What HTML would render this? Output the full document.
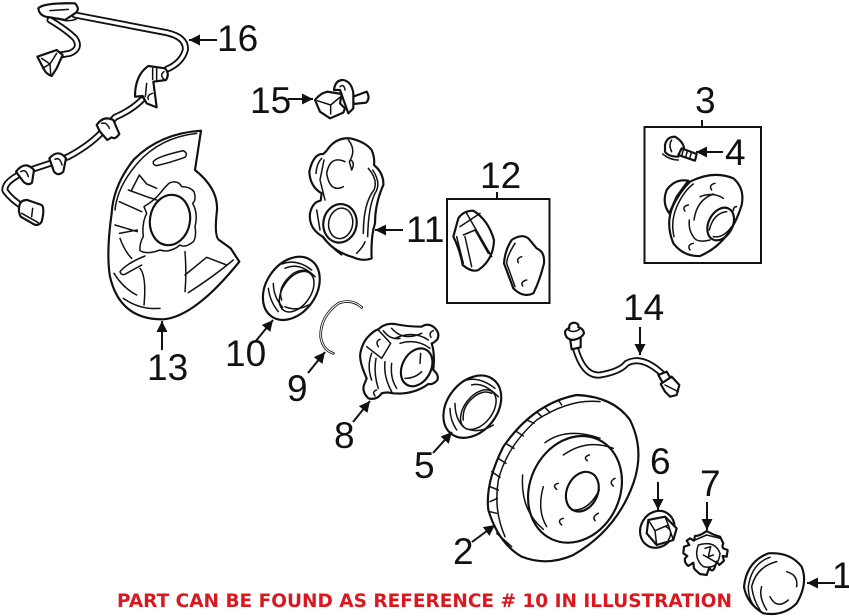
<!DOCTYPE html>
<html><head><meta charset="utf-8"><title>Diagram</title>
<style>
html,body{margin:0;padding:0;background:#fff}
svg{display:block}
.n{font-family:"Liberation Sans",sans-serif;font-size:37px;fill:#111}
.r{font-family:"DejaVu Sans",sans-serif;font-weight:bold;font-size:19px;fill:#d9181f}
.d path,.d ellipse,.d rect,.d circle{fill:none;stroke:#111;stroke-width:6.5;stroke-linecap:round;stroke-linejoin:round}
.d .f{fill:#fff}
.d .t{stroke-width:4.5}
.d .wb{stroke-width:21}
.d .ww{stroke:#fff;stroke-width:10}
.a line{stroke:#111;stroke-width:2}
</style></head>
<body>
<svg width="849" height="616" viewBox="0 0 849 616" xmlns="http://www.w3.org/2000/svg">
<defs><marker id="h" markerUnits="userSpaceOnUse" markerWidth="12" markerHeight="12" refX="11" refY="6" orient="auto"><path d="M0,0.5L11,6L0,11.5Z" fill="#111"/></marker></defs>

<!-- Group A: sensor wire + shield -->
<g class="d" transform="scale(.33333)">
<path class="wb" d="M225,45 L500,98 Q560,112 556,150 Q546,188 500,208"/>
<path class="ww" d="M225,45 L500,98 Q560,112 556,150 Q546,188 500,208"/>
<path class="wb" d="M150,60 Q200,90 225,115 Q245,145 210,160 L180,165"/>
<path class="ww" d="M150,60 Q200,90 225,115 Q245,145 210,160 L180,165"/>
<path class="f" d="M115,25 Q130,8 225,10 Q242,28 225,40 L195,60 L150,52 Q118,50 115,25Z"/>
<path class="t" d="M150,32L205,28M175,55Q200,68 228,58"/>
<path class="f" d="M112,170 L170,150 L188,165 L170,205 L155,228 Q138,222 132,208Z"/>
<path class="t" d="M125,175L150,192L170,160M150,192L152,222M128,205L150,192"/>
<path class="wb" d="M425,300 Q395,330 345,352 L320,380 Q280,430 205,470 L175,482 L75,515 Q10,545 15,572 Q35,600 72,622"/>
<path class="ww" d="M425,300 Q395,330 345,352 L320,380 Q280,430 205,470 L175,482 L75,515 Q10,545 15,572 Q35,600 72,622"/>
<path class="f" d="M405,290 Q405,225 445,198 L495,205 Q510,220 498,240 L460,245 L470,322 L440,310 L428,288Z"/>
<path class="t" d="M458,205L458,238M470,205L470,240M492,215Q478,225 492,238M458,280Q440,285 445,298M440,250L436,290"/>
<path class="f" d="M290,375 Q310,345 340,360 L358,402 Q345,420 335,412 L322,420 L300,395Z"/>
<path class="t" d="M305,370Q320,365 328,385"/>
<path class="f" d="M148,475 Q175,445 198,475 L190,515 Q175,530 162,515Z"/>
<path class="f" d="M48,515 Q75,480 102,510 L96,548 Q85,558 70,545Z"/>
<path class="t" d="M165,478Q180,470 186,495M62,515Q78,505 85,530"/>
<path class="f" d="M58,618 Q60,600 82,600 L125,615 Q135,625 125,665 Q115,680 100,672 L62,650Q54,635 58,618Z"/>
<path class="t" d="M65,640L115,668M98,625L95,650"/>
<!-- shield -->
<path class="f" d="M603,392 Q480,400 402,478 Q340,555 335,640 Q318,760 330,830 Q360,960 490,958 Q585,950 718,785 L692,745 L660,722 Q642,715 650,640 Q660,570 585,510Z"/>
<path class="t" d="M590,400Q480,412 412,490Q352,560 345,630"/>
<path d="M460,485 Q470,470 550,452 Q565,460 555,472 Q510,488 470,497 Q458,495 460,485Z" class="t"/>
<ellipse cx="510" cy="660" rx="60" ry="76" transform="rotate(10 510 660)"/>
<path class="t" d="M420,752 Q418,730 430,710 Q425,670 440,640 L432,620 Q465,600 480,580 Q500,555 510,548 Q535,540 545,560 Q570,560 582,575 Q590,600 578,610 Q595,640 585,680 Q590,710 580,725 Q555,745 540,735 Q510,760 480,750 Q440,765 420,752Z"/>
<path class="t" d="M395,570L418,525L440,552L470,565M385,570L440,590L470,600M358,605L425,635M345,675L412,695M358,700L412,690M360,715Q375,755 395,775M435,768Q380,790 360,815Q365,830 380,820L425,795M420,805Q440,830 432,915M342,820Q370,865 410,885M370,895Q420,930 480,925M555,755Q560,820 555,875M555,825L620,772L680,795M565,878Q640,830 700,780"/>
</g>

<!-- caliper -->
<g class="d" transform="translate(300,130) scale(.33333)">
<path class="f" d="M85,55 Q110,22 150,25 Q195,35 215,60 Q225,85 222,105 Q252,130 250,165 Q225,220 225,280 Q212,320 215,385 Q190,395 160,382 Q100,365 68,320 Q25,295 30,250 Q38,215 62,212 L65,190 Q30,170 28,125 Q40,70 70,72 Q78,65 85,55Z"/>
<path class="t" d="M135,95 Q90,75 80,130 Q90,190 130,170M145,30 Q170,60 148,95 L155,120 Q165,100 155,92M205,115 Q235,150 222,180 Q190,220 190,310M218,120 Q245,160 225,190 Q205,230 203,320M170,370Q190,350 195,335M48,130Q50,100 65,85M50,240L60,300M72,90L60,150L75,210M70,320Q90,350 125,375"/>
<ellipse cx="120" cy="280" rx="50" ry="58" transform="rotate(10 120 280)"/>
<ellipse class="t" cx="122" cy="280" rx="36" ry="46" transform="rotate(10 122 280)"/>
</g>

<!-- hub 8 -->
<g class="d" transform="translate(350,310) scale(.33333)">
<path class="f" d="M50,85 Q70,62 85,58 Q105,38 135,42 Q170,50 215,50 Q232,38 250,50 Q272,68 262,88 Q250,100 245,100 Q255,130 250,180 Q268,195 262,210 Q250,225 235,222 Q190,255 130,250 Q110,245 95,250 Q80,272 55,265 Q35,245 42,225 L50,205 Q25,150 32,125 Q38,100 50,85Z"/>
<path class="t" d="M85,60L122,100L95,145L50,110M90,88Q75,95 85,110M250,62Q235,68 243,82M80,240Q65,245 75,258M100,62Q120,90 150,85M125,55Q160,95 215,70M135,85Q190,60 235,90M150,100Q200,85 240,115M65,130Q50,170 65,210M78,145Q70,190 85,235M105,155Q100,200 125,245M125,160Q120,205 140,235"/>
<ellipse cx="200" cy="172" rx="43" ry="60" transform="rotate(28 200 172)"/>
<path class="t" d="M212,130L210,160M165,205Q195,205 215,185"/>
</g>

<!-- Group B -->
<g class="d" transform="translate(240,80) scale(.33333)">
<!-- 15 -->
<path class="f" d="M340,50 L380,35 Q392,55 378,68 L340,72Z"/>
<path class="f" d="M282,30 Q285,0 310,0 Q335,5 340,40 L340,85 L325,100 L300,30Z"/>
<path class="f" d="M225,60 Q240,40 262,35 L305,42 L300,70 L315,85 L310,98 L270,115 L240,95Z"/>
<path class="t" d="M232,62L272,75L302,50M272,75L272,102M300,20Q312,10 315,30"/>
<!-- pad 12 left -->
<path class="f" d="M655,415 Q670,392 700,392 Q745,420 762,480 Q760,540 715,570 Q695,578 668,555 Q660,510 640,470Z"/>
<path class="t" d="M660,440L720,400M680,400L755,530M650,470L670,550M670,465L705,450L745,520M675,470L695,560"/>
<!-- pad right -->
<path class="f" d="M815,480 Q845,460 865,475 L890,505 Q915,515 912,550 Q900,600 880,640 Q850,655 820,625 L792,550 Q795,510 815,480Z"/>
<path class="t" d="M825,490Q800,530 800,550L825,620M845,530Q828,535 835,548M860,600Q840,605 848,618"/>
<!-- seal 10 -->
<ellipse class="f" cx="154" cy="625" rx="75" ry="103" transform="rotate(35 154 625)"/>
<ellipse class="t" cx="170" cy="635" rx="42" ry="68" transform="rotate(35 170 635)"/>
<path class="t" d="M125,660Q110,620 160,580Q185,565 205,575M125,552Q170,535 215,570M135,565Q180,545 225,590M85,625Q90,665 115,695M100,610Q100,650 128,682M135,680Q170,695 205,675"/>
<!-- ring 9 -->
<path class="wb" style="stroke-width:8" d="M365,682 Q335,655 295,670 Q240,710 242,770 Q248,810 280,820"/>
<path class="ww" style="stroke-width:3" d="M365,682 Q335,655 295,670 Q240,710 242,770 Q248,810 280,820"/>
</g>

<!-- Group C -->
<g class="d" transform="translate(550,80) scale(.33333)">
<!-- bolt 4 -->
<path class="f" d="M345,195 Q350,170 375,170 Q400,185 402,205 L385,230 Q355,230 345,215Z"/>
<path class="f" d="M395,205L440,222L435,242L385,225Z"/>
<path class="t" d="M400,210L395,228M412,213L407,232M424,218L419,236M338,222Q360,240 385,240M365,180Q355,195 365,215"/>
<!-- hub 3 -->
<path class="f" d="M415,302 Q375,295 350,330 Q335,370 358,400L380,350Z"/>
<path class="f" d="M420,305 Q490,270 550,295 Q585,325 575,375 Q540,490 450,528 Q400,530 370,490 Q345,430 370,375 Q390,335 420,305Z"/>
<path class="t" d="M372,470Q360,420 385,370Q405,330 430,312M418,420Q415,450 430,470M430,470Q440,490 480,480M432,420Q440,360 490,342M450,350Q490,335 520,355"/>
<ellipse cx="512" cy="432" rx="36" ry="52" transform="rotate(28 512 432)"/>
<path class="t" d="M478,450Q490,400 530,395M490,470Q520,475 545,440"/>
<path class="t" d="M495,310Q475,315 485,330M415,375Q395,380 405,393M430,490Q410,495 420,510M560,380Q550,380 550,392"/>
<!-- 14 hose -->
<path class="wb" d="M75,800 Q100,890 150,885 Q210,875 230,850 Q275,825 335,880"/>
<path class="ww" d="M75,800 Q100,890 150,885 Q210,875 230,850 Q275,825 335,880"/>
<path class="f" d="M60,775L92,770L92,802L65,808Z"/>
<path class="f" d="M45,755 Q50,745 58,745 Q55,730 72,728 Q88,730 85,742 Q100,745 102,760 Q95,775 70,780 Q45,778 45,755Z"/>
<path class="t" d="M55,750Q70,760 88,748"/>
<path class="f" d="M325,885L350,875L362,895L340,912Z"/>
<path class="f" d="M332,912L365,890L388,915L380,945L360,950L345,935Z"/>
<path class="t" d="M345,915L385,935"/>
</g>

<!-- Group D -->
<g class="d" transform="translate(340,370) scale(.33333)">
<!-- 5 -->
<ellipse class="f" cx="397" cy="110" rx="75" ry="103" transform="rotate(38 397 110)"/>
<ellipse class="t" cx="415" cy="119" rx="42" ry="68" transform="rotate(38 415 119)"/>
<path class="t" d="M370,150Q365,105 410,75Q435,60 455,70M380,30Q420,20 465,55M395,45Q430,35 475,80M330,115Q330,150 350,180M345,100Q345,145 370,170M385,178Q420,190 460,165"/>
<!-- rotor -->
<path class="f" d="M710,75 Q820,80 870,150 Q915,240 880,340 Q830,480 700,555 Q620,590 545,560 Q475,520 445,420 Q435,340 490,230 Q580,100 710,75Z"/>
<path class="t" d="M780,95Q690,85 590,150Q500,230 475,330Q460,420 495,500"/>
<path class="t" d="M655,90L665,105M615,112L630,128M590,125L605,140M560,150L582,160M530,185L550,198M500,222L522,235M475,265L498,280M455,305L480,322M450,350L475,360M450,395L472,385M450,425L470,430M470,490L515,530"/>
<ellipse cx="705" cy="358" rx="135" ry="165" transform="rotate(25 705 358)"/>
<path class="t" d="M615,218Q680,170 780,205M670,255Q740,205 820,235M548,315Q540,420 610,478M610,350Q590,420 620,470"/>
<ellipse cx="727" cy="365" rx="46" ry="62" transform="rotate(25 727 365)"/>
<path class="t" d="M695,420Q745,425 778,360"/>
<path class="t" d="M748,255Q728,262 742,272M655,340Q635,345 650,358M825,325Q805,335 820,348M670,445Q650,450 665,465M775,430Q755,440 765,452"/>
<!-- 6 nut -->
<ellipse class="f" cx="952" cy="478" rx="50" ry="57" transform="rotate(30 952 478)"/>
<path class="f" d="M925,450L975,440L1010,475L1000,510L950,525L920,490Z"/>
<path class="t" d="M925,450L945,482L950,525M945,482L985,465L975,440M985,465L1000,510M978,470Q1002,482 985,510"/>
<!-- 7 castle -->
<path class="f" d="M1065,498 Q1080,498 1100,483 Q1120,495 1140,500 L1150,520 Q1145,530 1150,535 L1163,540 L1160,560 L1148,558 L1152,572 L1138,585 L1130,575 L1125,590 Q1120,605 1112,600 L1108,592 L1100,615 L1080,612 Q1065,600 1062,595 L1060,578 L1045,588 Q1032,578 1035,565 L1042,558 L1030,550 L1032,530 L1048,525 L1040,512 L1050,505 L1062,512Z"/>
<path class="t" d="M1065,510L1100,495L1140,505M1075,525Q1125,510 1140,550Q1135,600 1090,590Q1060,565 1075,525M1095,535L1112,530L1105,560L1120,555M1090,555L1125,575"/>
<!-- 1 cap -->
<path class="f" d="M1285,550 Q1350,545 1385,590 Q1405,640 1370,700 Q1330,740 1270,730 Q1220,700 1212,650 Q1220,575 1285,550Z"/>
<path class="t" d="M1290,562Q1235,580 1225,650Q1225,690 1245,710M1310,575Q1250,590 1235,650Q1240,690 1260,720M1265,650Q1255,680 1280,720M1340,605Q1375,615 1370,650M1290,680Q1310,720 1345,690"/>
</g>

<!-- boxes -->
<rect x="644.5" y="127" width="116.5" height="136" fill="none" stroke="#111" stroke-width="2"/>
<rect x="447" y="199" width="102.5" height="104" fill="none" stroke="#111" stroke-width="2"/>
<g class="a">
<line x1="702" y1="120" x2="702" y2="127"/>
<line x1="497" y1="192" x2="497" y2="199"/>
<line x1="217" y1="40" x2="189" y2="40" marker-end="url(#h)"/>
<line x1="288" y1="99" x2="313" y2="99" marker-end="url(#h)"/>
<line x1="723" y1="152" x2="696" y2="152" marker-end="url(#h)"/>
<line x1="403" y1="230" x2="375" y2="230" marker-end="url(#h)"/>
<line x1="162" y1="350" x2="162" y2="321" marker-end="url(#h)"/>
<line x1="255" y1="342" x2="273" y2="320" marker-end="url(#h)"/>
<line x1="308" y1="373" x2="325" y2="352" marker-end="url(#h)"/>
<line x1="353" y1="422" x2="370" y2="401" marker-end="url(#h)"/>
<line x1="433" y1="453" x2="452" y2="432" marker-end="url(#h)"/>
<line x1="472" y1="542" x2="495" y2="525" marker-end="url(#h)"/>
<line x1="658" y1="482" x2="658" y2="510" marker-end="url(#h)"/>
<line x1="707" y1="502" x2="707" y2="530" marker-end="url(#h)"/>
<line x1="835" y1="583" x2="807" y2="583" marker-end="url(#h)"/>
<line x1="640" y1="327" x2="640" y2="355" marker-end="url(#h)"/>
</g>

<!-- labels -->
<text class="n" x="217" y="51">16</text>
<text class="n" x="250" y="113">15</text>
<text class="n" x="695" y="113">3</text>
<text class="n" x="725" y="165">4</text>
<text class="n" x="480" y="188">12</text>
<text class="n" x="406" y="242">11</text>
<text class="n" x="623" y="320">14</text>
<text class="n" x="147" y="380">13</text>
<text class="n" x="225" y="366">10</text>
<text class="n" x="287" y="401">9</text>
<text class="n" x="334" y="448">8</text>
<text class="n" x="414" y="478">5</text>
<text class="n" x="453" y="564">2</text>
<text class="n" x="650" y="474">6</text>
<text class="n" x="700" y="496">7</text>
<text class="n" x="832" y="588">1</text>
<text class="r" x="117" y="607" textLength="615" lengthAdjust="spacingAndGlyphs">PART CAN BE FOUND AS REFERENCE # 10 IN ILLUSTRATION</text>
</svg>
</body></html>
